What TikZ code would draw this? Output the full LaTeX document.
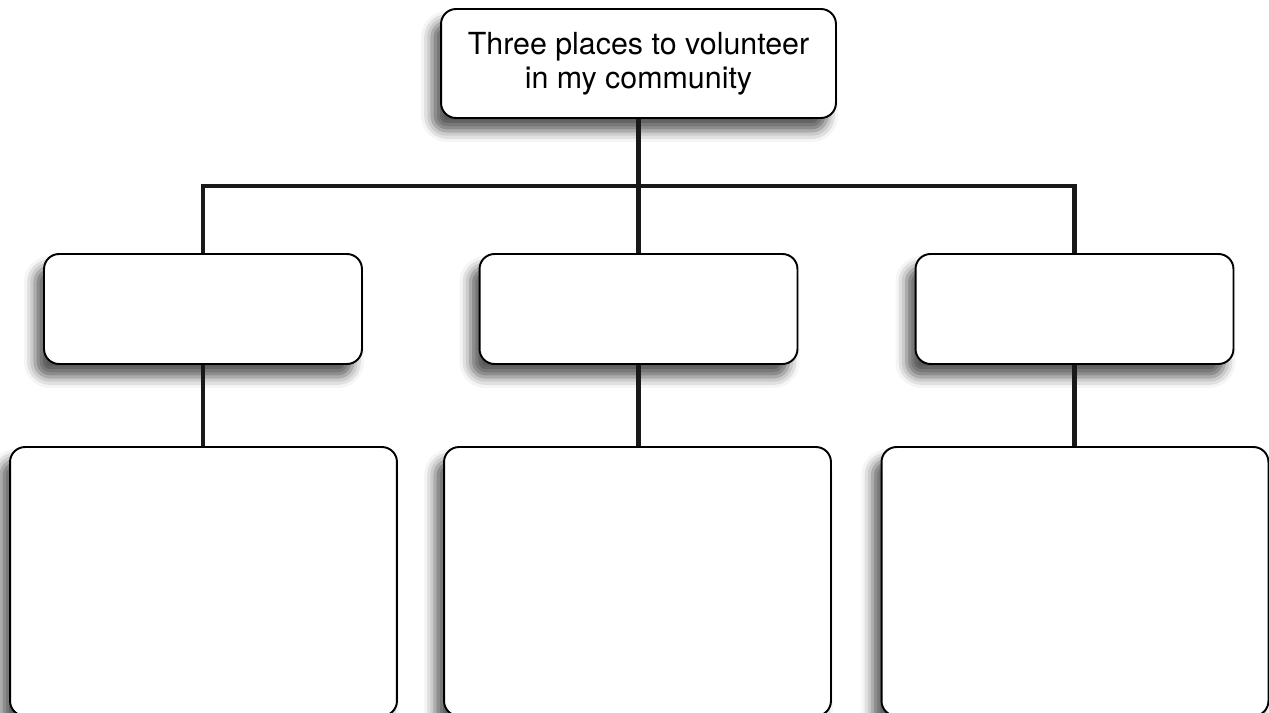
\documentclass[tikz,border=0pt]{standalone}
\usepackage{fontspec}
\setmainfont{TeX Gyre Heros}
\usetikzlibrary{shadows.blur}
\tikzset{
	every path/.style={thick},
	align=center,
	box/.style={
		draw,
		rectangle,
		fill=white,
		line width=1.1pt,
		rounded corners=3mm,
		blur shadow={shadow xshift=-1.8mm, shadow yshift=-2.6mm,
			shadow blur radius=2.2mm, shadow opacity=65},
	},
	topic/.style={
		box,
		minimum width=7.9cm,
		minimum height=2.18cm,
		font=\fontsize{17.3}{19.4}\selectfont,
	},
	place/.style={
		box,
		minimum width=6.36cm,
		minimum height=2.2cm,
	},
	notes/.style={
		box,
		minimum width=7.74cm,
		minimum height=5.38cm,
	},
	link/.style={
		line width=2.3pt,
		draw=black!90,
	},
}

\begin{document}
\begin{tikzpicture}[x=0.02cm,y=-0.02cm]
		\useasboundingbox (0,0) rectangle (1269,713);

		\node[topic] (P0) at (638.5,63.5) {Three places to volunteer\\in my community};

		\node[place] (P1) at (203,309) {};
		\node[place] (P2) at (638.5,309) {};
		\node[place] (P3) at (1074.5,309) {};

		\node[notes] (D1) at (203.5,581.5) {};
		\node[notes] (D2) at (637.5,581.5) {};
		\node[notes] (D3) at (1075,581.5) {};

		\coordinate (J) at (638.5,186);

		\draw[link] (P0.south) -- (P2.north);
		\draw[link] (P1.north) |- (J) -| (P3.north);
		\draw[link] (P1.south) -- (P1.south |- D1.north);
		\draw[link] (P2.south) -- (P2.south |- D2.north);
		\draw[link] (P3.south) -- (P3.south |- D3.north);

	\end{tikzpicture}
\end{document}
